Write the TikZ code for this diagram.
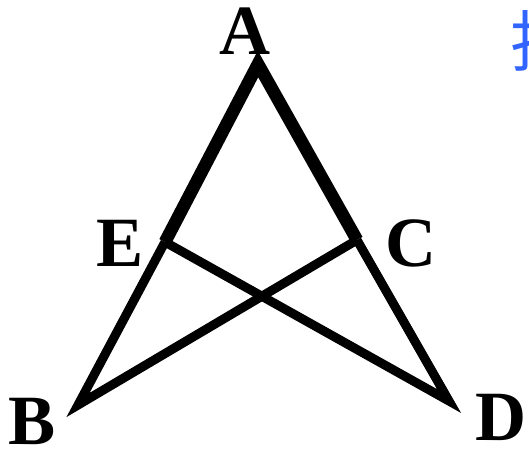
\documentclass[tikz,border=0pt]{standalone}
\usepackage{fontspec}
\setmainfont{Liberation Serif}
\newfontfamily\cjkfont{Noto Sans CJK SC}
\usepackage{tikz}
\usetikzlibrary{positioning}
\definecolor{hintblue}{RGB}{50, 100, 255}
\tikzset{
    vertexlabel/.style={inner sep=0pt, font=\fontsize{53}{53}\selectfont\bfseries},
    upperside/.style={line width=9.5pt, line join=miter, miter limit=10},
    lowerside/.style={line width=6.8pt, line join=miter, miter limit=10}
}

\begin{document}
\begin{tikzpicture}[x=0.75pt, y=-0.75pt]
    \useasboundingbox (0,0) rectangle (529,454);
    % vertices
    \coordinate (A) at (258,64);
    \coordinate (B) at (78,405);
    \coordinate (C) at (357,240);
    \coordinate (D) at (449,401);
    \coordinate (E) at (165,242);

    % sides
    \draw [upperside] (E) -- (A) -- (C);
    \draw [lowerside] (E) -- (B) -- (C);
    \draw [lowerside] (C) -- (D) -- (E);

    % labels
    \node (labA) [vertexlabel] at (245,31) {A};
    \node (labE) [vertexlabel] at (120,243) {E};
    \node (labC) [vertexlabel] at (411,243) {C};
    \node (labB) [vertexlabel] at (32,421) {B};
    \node (labD) [vertexlabel] at (501,417) {D};

    % cut-off note at the right edge
    \begin{scope}
        \clip (0,0) rectangle (529,454);
        \node (note) [inner sep=0pt, anchor=west, text=hintblue, font=\cjkfont\fontsize{50}{50}\selectfont] at (510,41) {找};
    \end{scope}
\end{tikzpicture}
\end{document}
